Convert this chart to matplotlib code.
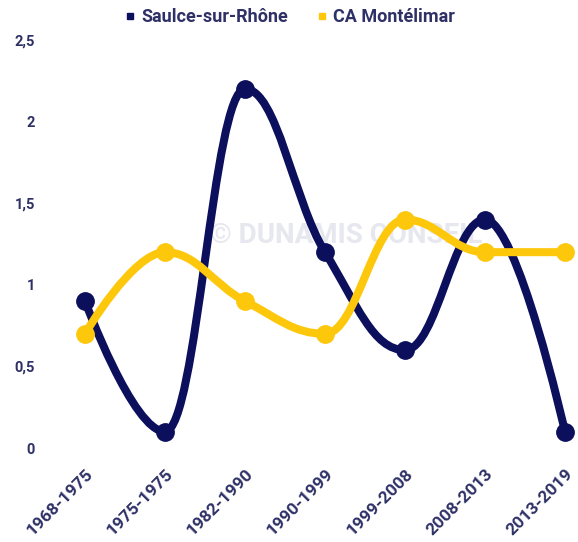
import numpy as np
import matplotlib.pyplot as plt
from matplotlib.path import Path
from matplotlib.patches import PathPatch
from matplotlib.lines import Line2D

periods = ["1968-1975", "1975-1975", "1982-1990", "1990-1999",
           "1999-2008", "2008-2013", "2013-2019"]
saulce = [0.9, 0.1, 2.2, 1.2, 0.6, 1.4, 0.1]
montelimar = [0.7, 1.2, 0.9, 0.7, 1.4, 1.2, 1.2]
y_ticks = [0, 0.5, 1, 1.5, 2, 2.5]
y_labels = ["0", "0,5", "1", "1,5", "2", "2,5"]

NAVY = "#0b0f5c"
YELLOW = "#fdc70c"
TEXT = "#2e3066"
FONT = ["Roboto", "DejaVu Sans"]


def spline_path(xs, ys, smoothing=1.5):
    # highcharts-like spline: bezier control points per point
    n = len(xs)
    left = [(xs[i], ys[i]) for i in range(n)]
    right = [(xs[i], ys[i]) for i in range(n)]
    denom = smoothing + 1
    for i in range(1, n - 1):
        px, py = xs[i], ys[i]
        lx, ly = xs[i - 1], ys[i - 1]
        nx, ny = xs[i + 1], ys[i + 1]
        lcx = (smoothing * px + lx) / denom
        lcy = (smoothing * py + ly) / denom
        rcx = (smoothing * px + nx) / denom
        rcy = (smoothing * py + ny) / denom
        if rcx != lcx:
            corr = (rcy - lcy) * (rcx - px) / (rcx - lcx) + py - rcy
            lcy += corr
            rcy += corr
        if lcy > ly and lcy > py:
            lcy = max(ly, py)
            rcy = 2 * py - lcy
        elif lcy < ly and lcy < py:
            lcy = min(ly, py)
            rcy = 2 * py - lcy
        if rcy > ny and rcy > py:
            rcy = max(ny, py)
            lcy = 2 * py - rcy
        elif rcy < ny and rcy < py:
            rcy = min(ny, py)
            lcy = 2 * py - rcy
        left[i] = (lcx, lcy)
        right[i] = (rcx, rcy)
    verts = [(xs[0], ys[0])]
    codes = [Path.MOVETO]
    for i in range(1, n):
        verts += [right[i - 1], left[i], (xs[i], ys[i])]
        codes += [Path.CURVE4] * 3
    return Path(verts, codes)


fig = plt.figure(figsize=(5.78, 5.42), dpi=100)
ax = fig.add_axes([85 / 578, 94 / 542, 480 / 578, 408 / 542])
x = np.arange(len(periods))

for vals, color, z in [(saulce, NAVY, 3), (montelimar, YELLOW, 4)]:
    patch = PathPatch(spline_path(list(x), vals), facecolor="none",
                      edgecolor=color, lw=5.8, capstyle="round",
                      joinstyle="round", zorder=z, clip_on=False)
    ax.add_patch(patch)
    ax.plot(x, vals, "o", color=color, ms=12.5, zorder=z, clip_on=False)

ax.text(0.545, 0.52, "© DUNAMIS CONSEIL", transform=ax.transAxes,
        ha="center", va="center", fontsize=20, fontweight="bold",
        color="#e7e7ef", family=FONT, zorder=1)

ax.set_xlim(0, len(periods) - 1)
ax.set_ylim(0, 2.5)
ax.set_yticks(y_ticks)
ax.set_yticklabels(y_labels)
ax.set_xticks(x)
ax.set_xticklabels(periods, rotation=45, ha="right", va="top",
                   rotation_mode="anchor")
ax.tick_params(axis="y", length=0, pad=36)
ax.tick_params(axis="x", length=0, pad=13)
for lbl in ax.get_xticklabels() + ax.get_yticklabels():
    lbl.set_fontfamily(FONT)
    lbl.set_fontweight("bold")
    lbl.set_fontsize(10.5)
    lbl.set_color(TEXT)
for lbl in ax.get_xticklabels():
    lbl.set_fontsize(12.5)
for s in ax.spines.values():
    s.set_visible(False)

handles = [Line2D([], [], ls="none", marker="s", ms=5, color=NAVY),
           Line2D([], [], ls="none", marker="s", ms=5, color=YELLOW)]
fig.legend(handles, ["Saulce-sur-Rhône", "CA Montélimar"], loc="center",
           bbox_to_anchor=(0.5, 1 - 17 / 542), ncol=2, frameon=False,
           prop={"family": FONT, "weight": "bold", "size": 13},
           labelcolor=TEXT, handletextpad=0.2, columnspacing=1.5,
           handlelength=0.8)

fig.savefig("out.png", dpi=100)
